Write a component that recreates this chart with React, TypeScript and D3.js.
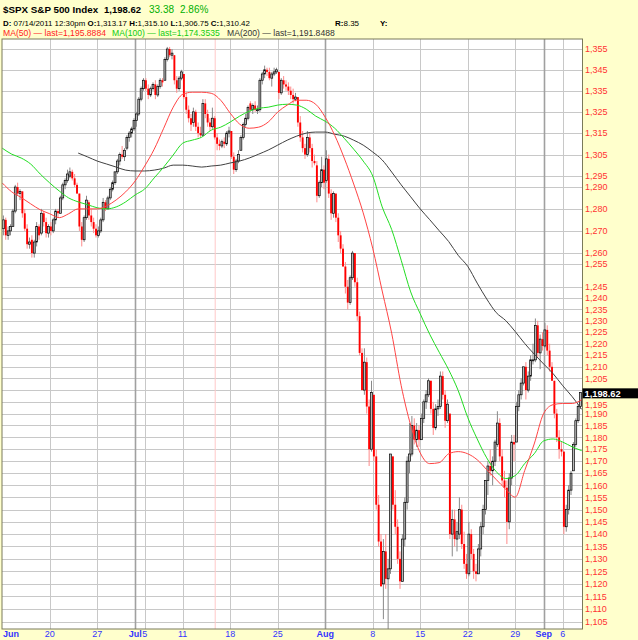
import React, { useEffect } from "react";
import * as d3 from "d3";

// ---------- DATA ----------
// Intraday bars (4 per trading day) [open, high, low, close], Jun 13 – Sep 7 2011
const ohlc: [number, number, number, number][] = [
  // Jun 13
  [1271,1277,1268,1275],[1275,1276,1266,1268],[1268,1272,1266,1270],[1270,1273,1268,1272],
  // Jun 14
  [1272,1280,1272,1279],[1279,1291,1278,1290],[1290,1292,1286,1287],[1287,1289,1284,1288],
  // Jun 15
  [1288,1288,1276,1278],[1278,1280,1270,1271],[1271,1273,1262,1264],[1264,1267,1262,1265],
  // Jun 16
  [1266,1268,1258,1260],[1260,1266,1258,1265],[1265,1274,1263,1272],[1272,1273,1266,1268],
  // Jun 17
  [1269,1280,1268,1278],[1278,1279,1272,1274],[1274,1276,1267,1269],[1269,1273,1267,1272],
  // Jun 20
  [1272,1274,1268,1270],[1270,1276,1269,1275],[1275,1280,1273,1279],[1279,1280,1276,1278],
  // Jun 21
  [1278,1286,1278,1285],[1285,1292,1284,1291],[1291,1294,1289,1293],[1293,1298,1292,1296],
  // Jun 22
  [1295,1299,1294,1297],[1297,1298,1293,1294],[1294,1296,1290,1291],[1291,1292,1287,1287],
  // Jun 23
  [1287,1287,1270,1272],[1272,1274,1263,1266],[1266,1277,1265,1276],[1276,1286,1275,1284],
  // Jun 24
  [1283,1284,1275,1277],[1277,1280,1272,1274],[1274,1276,1269,1271],[1271,1273,1267,1268],
  // Jun 27
  [1268,1272,1267,1270],[1270,1276,1269,1275],[1275,1285,1274,1283],[1283,1284,1279,1280],
  // Jun 28
  [1280,1286,1280,1285],[1285,1290,1284,1289],[1289,1293,1288,1292],[1292,1297,1291,1297],
  // Jun 29
  [1297,1303,1296,1302],[1302,1306,1300,1305],[1305,1309,1303,1304],[1304,1308,1302,1307],
  // Jun 30
  [1308,1314,1307,1313],[1313,1316,1311,1315],[1315,1318,1313,1317],[1317,1322,1316,1321],
  // Jul 1
  [1321,1325,1318,1324],[1324,1332,1323,1331],[1331,1337,1330,1336],[1336,1341,1335,1340],
  // Jul 5
  [1340,1341,1335,1336],[1336,1338,1331,1333],[1333,1337,1332,1336],[1336,1339,1335,1338],
  // Jul 6
  [1338,1340,1331,1333],[1333,1338,1332,1337],[1337,1341,1336,1340],[1340,1341,1337,1339],
  // Jul 7
  [1340,1351,1340,1350],[1350,1356,1349,1355],[1355,1356,1351,1352],[1352,1355,1350,1353],
  // Jul 8
  [1352,1352,1338,1340],[1340,1342,1334,1336],[1336,1342,1335,1341],[1341,1345,1340,1344],
  // Jul 11
  [1343,1343,1331,1332],[1332,1334,1324,1326],[1326,1328,1320,1322],[1322,1324,1316,1319],
  // Jul 12
  [1320,1327,1318,1325],[1325,1326,1316,1318],[1318,1320,1313,1315],[1315,1318,1313,1314],
  // Jul 13
  [1314,1331,1314,1329],[1329,1331,1322,1324],[1324,1326,1318,1320],[1320,1322,1316,1318],
  // Jul 14
  [1318,1327,1317,1322],[1322,1323,1312,1313],[1313,1315,1307,1310],[1310,1312,1307,1309],
  // Jul 15
  [1309,1312,1308,1311],[1311,1313,1308,1310],[1310,1316,1309,1315],[1315,1318,1313,1316],
  // Jul 18
  [1316,1316,1303,1304],[1304,1306,1296,1298],[1298,1303,1297,1302],[1302,1307,1301,1305],
  // Jul 19
  [1307,1314,1307,1313],[1313,1320,1312,1319],[1319,1324,1318,1322],[1322,1328,1321,1327],
  // Jul 20
  [1329,1330,1325,1326],[1326,1329,1324,1328],[1328,1330,1325,1326],[1326,1328,1324,1326],
  // Jul 21
  [1326,1341,1325,1340],[1340,1344,1338,1343],[1343,1347,1341,1345],[1345,1346,1342,1344],
  // Jul 22
  [1344,1346,1340,1341],[1341,1344,1337,1343],[1343,1346,1342,1344],[1344,1346,1343,1345],
  // Jul 25
  [1344,1344,1331,1334],[1334,1341,1333,1340],[1340,1342,1336,1338],[1338,1340,1335,1337],
  // Jul 26
  [1337,1339,1333,1335],[1335,1337,1331,1333],[1333,1336,1329,1331],[1331,1334,1330,1332],
  // Jul 27
  [1332,1332,1318,1320],[1320,1323,1311,1313],[1313,1316,1306,1308],[1308,1310,1303,1305],
  // Jul 28
  [1305,1316,1304,1313],[1313,1315,1306,1308],[1308,1310,1299,1302],[1302,1305,1300,1301],
  // Jul 29
  [1300,1302,1283,1286],[1286,1293,1285,1292],[1292,1304,1290,1298],[1298,1300,1289,1292],
  // Aug 1
  [1293,1307,1292,1303],[1303,1305,1285,1287],[1287,1289,1275,1278],[1278,1288,1276,1287],
  // Aug 2
  [1287,1287,1274,1276],[1276,1278,1265,1268],[1268,1270,1260,1262],[1262,1264,1254,1254],
  // Aug 3
  [1254,1256,1242,1245],[1245,1248,1235,1238],[1238,1250,1237,1249],[1249,1261,1248,1260],
  // Aug 4
  [1260,1260,1245,1247],[1247,1249,1230,1232],[1232,1234,1215,1216],[1216,1218,1200,1200],
  // Aug 5
  [1200,1218,1198,1212],[1212,1214,1190,1193],[1193,1196,1168,1175],[1175,1204,1174,1199],
  // Aug 8
  [1198,1198,1170,1172],[1172,1175,1150,1152],[1152,1156,1135,1137],[1137,1140,1119,1119],
  // Aug 9
  [1120,1138,1106,1133],[1133,1140,1118,1122],[1122,1130,1102,1126],[1126,1173,1124,1173],
  // Aug 10
  [1172,1172,1150,1152],[1152,1158,1140,1143],[1143,1146,1128,1130],[1130,1133,1118,1121],
  // Aug 11
  [1121,1140,1121,1138],[1138,1155,1135,1153],[1153,1172,1150,1170],[1170,1186,1165,1173],
  // Aug 12
  [1173,1189,1172,1185],[1185,1188,1177,1179],[1179,1186,1176,1183],[1183,1185,1176,1179],
  // Aug 15
  [1179,1190,1179,1188],[1188,1196,1186,1195],[1195,1200,1192,1198],[1198,1205,1197,1204],
  // Aug 16
  [1204,1204,1190,1192],[1192,1195,1181,1184],[1184,1194,1183,1192],[1192,1196,1189,1193],
  // Aug 17
  [1193,1208,1192,1206],[1206,1208,1196,1198],[1198,1200,1184,1187],[1187,1196,1186,1194],
  // Aug 18
  [1190,1190,1138,1140],[1140,1150,1131,1146],[1146,1150,1135,1138],[1138,1145,1133,1141],
  // Aug 19
  [1140,1155,1138,1150],[1150,1152,1134,1136],[1136,1141,1126,1128],[1128,1132,1122,1124],
  // Aug 22
  [1124,1145,1123,1140],[1140,1142,1130,1132],[1132,1134,1122,1125],[1125,1128,1121,1124],
  // Aug 23
  [1124,1136,1124,1134],[1134,1145,1131,1143],[1143,1152,1140,1150],[1150,1162,1148,1162],
  // Aug 24
  [1162,1170,1156,1168],[1168,1175,1164,1166],[1166,1172,1160,1170],[1170,1179,1168,1178],
  // Aug 25
  [1177,1191,1176,1186],[1186,1188,1170,1172],[1172,1175,1160,1162],[1162,1166,1155,1159],
  // Aug 26
  [1159,1162,1136,1145],[1145,1165,1142,1163],[1163,1181,1160,1178],[1178,1181,1170,1177],
  // Aug 29
  [1178,1195,1178,1193],[1193,1200,1191,1198],[1198,1205,1196,1203],[1203,1210,1202,1210],
  // Aug 30
  [1210,1212,1196,1200],[1200,1208,1199,1206],[1206,1215,1204,1213],[1213,1220,1211,1213],
  // Aug 31
  [1213,1231,1212,1228],[1228,1230,1214,1216],[1216,1224,1209,1222],[1222,1225,1217,1219],
  // Sep 1
  [1219,1229,1218,1226],[1226,1228,1215,1217],[1217,1220,1208,1210],[1210,1212,1204,1204],
  // Sep 2
  [1204,1204,1188,1190],[1190,1192,1178,1180],[1180,1183,1171,1175],[1175,1178,1172,1174],
  // Sep 6
  [1174,1174,1140,1143],[1143,1152,1141,1150],[1150,1160,1148,1158],[1158,1166,1156,1165],
  // Sep 7
  [1166,1178,1166,1177],[1177,1188,1176,1187],[1187,1194,1186,1193],[1193,1199,1192,1199],
];
const BARS_PER_DAY = 4;

// Moving averages sampled at each day boundary (62 boundaries: Jun 13 open ... Sep 7 close)
const ma50: number[] = [
  1291.9,1287.8,1285.2,1282.3,1279.6,1277.8,1276.0,1277.8,1280.0,1280.0,
  1280.0,1281.4,1284.1,1287.8,1292.8,1299.7,1307.5,1317.3,1327.2,1333.3,
  1334.3,1334.3,1333.8,1330.5,1324.4,1319.2,1317.3,1317.8,1320.2,1324.9,
  1328.2,1330.5,1330.5,1328.6,1322.5,1314.0,1303.4,1291.4,1278.2,1262.2,
  1243.1,1224.5,1201.9,1185.1,1173.5,1169.0,1169.4,1173.1,1174.0,1173.1,
  1170.6,1166.5,1162.4,1158.4,1155.1,1166.1,1177.2,1190.1,1193.8,1194.3,
  1194.3,1195.9,
];
const ma100: number[] = [
  1308.0,1305.2,1303.4,1300.6,1296.0,1291.9,1288.2,1285.0,1283.2,1281.9,
  1280.5,1280.0,1280.9,1283.2,1286.4,1289.1,1294.2,1299.2,1304.8,1310.3,
  1311.7,1313.1,1316.4,1317.8,1320.2,1323.0,1325.3,1326.7,1327.2,1328.2,
  1328.6,1328.2,1326.3,1323.0,1320.6,1317.3,1312.6,1307.5,1302.0,1295.1,
  1280.9,1270.6,1256.8,1242.7,1233.1,1224.1,1216.3,1208.7,1199.8,1188.4,
  1179.3,1171.4,1165.7,1162.8,1164.0,1169.0,1173.1,1178.5,1179.3,1178.0,
  1176.0,1174.4,
];
const ma200: (number | null)[] = [
  null,null,null,null,null,null,null,null,1305.7,1303.9,
  1302.0,1300.6,1299.2,1297.8,1297.4,1297.4,1297.8,1298.7,1300.1,1300.1,
  1299.7,1299.2,1299.7,1300.1,1301.1,1302.0,1303.4,1305.2,1307.1,1309.4,
  1311.7,1313.6,1315.0,1315.5,1315.5,1314.5,1313.6,1311.7,1309.4,1306.2,
  1302.5,1296.9,1291.0,1285.5,1280.0,1275.1,1270.1,1265.2,1259.0,1254.1,
  1246.6,1239.6,1233.6,1230.1,1225.3,1220.1,1215.5,1211.2,1207.0,1201.9,
  1197.2,1191.8,
];

// x-axis labels (trading-day index where the label sits)
const xTickLabels = ["Jun","20","27","Jul","5","11","18","25","Aug","8","15","22","29","Sep","6"];
const xTickDays = [0,5,10,14,15,19,24,29,34,39,44,49,54,57,59];
const monthTicks = ["Jun","Jul","Aug","Sep"];

const yTicks = [1355,1345,1335,1325,1315,1305,1295,1290,1280,1270,1260,1255,1245,1240,1235,1230,
  1225,1220,1215,1210,1205,1200,1195,1190,1185,1180,1175,1170,1165,1160,1155,1150,1145,1140,
  1135,1130,1125,1120,1115,1110,1105];

const lastPrice = 1198.62;
const cursorDay = 22.42; // 07/14/2011 12:30pm

const fmt = d3.format(",");

export default function App() {
  useEffect(() => {
    document.body.style.margin = "0";
  }, []);

  const W = 638, H = 640;
  const nDays = ohlc.length / BARS_PER_DAY;
  const P = { l: 2, r: 582.5, t: 39, b: 629 };
  const x = d3.scaleLinear().domain([0, nDays]).range([2.2, 581.7]);
  const y = d3.scaleLog().domain([1105, 1355]).range([621.7, 49]);
  const font = "'Liberation Sans', Arial, sans-serif";
  const slot = (x(1) - x(0)) / BARS_PER_DAY;
  const bw = 1.9;
  const boxH = 10;
  const boxTop = y(lastPrice) - boxH / 2;
  const boxBot = y(lastPrice) + boxH / 2;

  // label placement: hide the label covered by the price box, push the one just below it down
  const labelBase = (v: number) => {
    const base = y(v) + 3.2;
    if (base > boxBot && base - 9 < boxBot) return boxBot + 9.5;
    return base;
  };
  const labelVisible = (v: number) => {
    const base = y(v) + 3.2;
    return base < boxTop || base > boxBot;
  };

  const maPath = (vals: (number | null)[]) =>
    d3.line<number | null>()
      .defined((v) => v != null)
      .x((_, i) => x(i))
      .y((v) => y(v as number))
      .curve(d3.curveMonotoneX)(vals) || "";

  return (
    <svg width={W} height={H} style={{ position: "absolute", left: 0, top: 0, display: "block" }}
      fontFamily={font}>
      <defs>
        <clipPath id="plotClip">
          <rect x={P.l} y={P.t} width={P.r - P.l} height={P.b - P.t} />
        </clipPath>
      </defs>
      <rect x={0} y={0} width={W} height={H} fill="#FFFFCC" />
      <rect x={P.l} y={P.t} width={P.r - P.l} height={P.b - P.t} fill="#FFFFFF" />

      {/* horizontal grid */}
      {yTicks.map((v) => (
        <line key={"hg" + v} x1={P.l} x2={P.r} y1={Math.round(y(v)) + 0.5} y2={Math.round(y(v)) + 0.5}
          stroke="#C8C8C8" strokeWidth={1} />
      ))}
      {/* vertical grid */}
      {xTickDays.map((d, i) => {
        if (d === 0) return null;
        const isMonth = monthTicks.includes(xTickLabels[i]);
        const xx = Math.round(x(d)) + 0.5;
        return (
          <line key={"vg" + i} x1={xx} x2={xx} y1={P.t} y2={P.b}
            stroke={isMonth ? "#A0A0A0" : "#C8C8C8"} strokeWidth={isMonth ? 1.6 : 1} />
        );
      })}
      {/* cursor line */}
      <line x1={x(cursorDay)} x2={x(cursorDay)} y1={P.t} y2={P.b} stroke="#FFC8C8" strokeWidth={1} />

      <g clipPath="url(#plotClip)">
        {/* candles */}
        {ohlc.map(([o, h, l, c], j) => {
          const day = Math.floor(j / BARS_PER_DAY);
          const k = j % BARS_PER_DAY;
          const cx = x(day) + (k + 0.5) * slot;
          const up = c >= o;
          const top = y(Math.max(o, c));
          const bot = y(Math.min(o, c));
          const bh = Math.max(1, bot - top);
          return (
            <g key={"c" + j}>
              <line x1={cx} x2={cx} y1={y(h)} y2={y(l)} stroke={up ? "#888888" : "#FF8A8A"} strokeWidth={1} />
              {up ? (
                <rect x={cx - bw / 2} y={top} width={bw} height={bh} fill="#BBBBBB" stroke="#000000" strokeWidth={0.7} />
              ) : (
                <rect x={cx - bw / 2} y={top} width={bw} height={bh} fill="#FF0000" />
              )}
            </g>
          );
        })}
        {/* moving averages */}
        <path d={maPath(ma200)} fill="none" stroke="#404040" strokeWidth={1} />
        <path d={maPath(ma100)} fill="none" stroke="#22DD22" strokeWidth={1} />
        <path d={maPath(ma50)} fill="none" stroke="#FF4444" strokeWidth={1} />
      </g>

      {/* plot border */}
      <rect x={P.l} y={P.t} width={P.r - P.l} height={P.b - P.t} fill="none" stroke="#7A7A5A" strokeWidth={1} />

      {/* right axis labels */}
      {yTicks.filter(labelVisible).map((v) => (
        <text key={"yl" + v} x={585} y={labelBase(v)} fontSize={9} fill="#FF3333">{fmt(v)}</text>
      ))}
      {/* last price box */}
      <rect x={P.r} y={boxTop} width={W - P.r} height={boxH} fill="#000000" />
      <text x={584.5} y={y(lastPrice) + 3.2} fontSize={9.3} fontWeight="bold" fill="#FFFFFF">
        {d3.format(",.2f")(lastPrice)}
      </text>

      {/* x-axis labels */}
      {xTickDays.map((d, i) => {
        const lab = xTickLabels[i];
        const isMonth = monthTicks.includes(lab);
        const first = d === 0;
        return (
          <text key={"xl" + i} x={first ? 3 : x(d)} y={637} fontSize={9}
            textAnchor={first ? "start" : "middle"} fontWeight={isMonth ? "bold" : "normal"} fill="#3333FF">
            {lab}
          </text>
        );
      })}

      {/* header */}
      <text x={3} y={13} fontSize={9.8} fontWeight="bold" fill="#000">$SPX S&amp;P 500 Index</text>
      <text x={104} y={13} fontSize={9.5} fontWeight="bold" fill="#000">1,198.62</text>
      <text x={149} y={13} fontSize={10} fill="#00B000">33.38</text>
      <text x={180} y={13} fontSize={10} fill="#00B000">2.86%</text>

      <text x={3} y={26} fontSize={7.9} fill="#000">
        <tspan fontWeight="bold">D:</tspan> 07/14/2011  12:30pm <tspan fontWeight="bold">O:</tspan>1,313.17 <tspan fontWeight="bold">H:</tspan>1,315.10 <tspan fontWeight="bold">L:</tspan>1,306.75 <tspan fontWeight="bold">C:</tspan>1,310.42
      </text>
      <text x={335} y={26} fontSize={8} fill="#000"><tspan fontWeight="bold">R:</tspan>8.35</text>
      <text x={380} y={26} fontSize={8} fill="#000" fontWeight="bold">Y:</text>

      <text x={3} y={36} fontSize={8.6} fill="#FF2222">MA(50) — last=1,195.8884</text>
      <text x={112} y={36} fontSize={8.6} fill="#11CC11">MA(100) — last=1,174.3535</text>
      <text x={227} y={36} fontSize={8.6} fill="#333333">MA(200) — last=1,191.8488</text>
    </svg>
  );
}
